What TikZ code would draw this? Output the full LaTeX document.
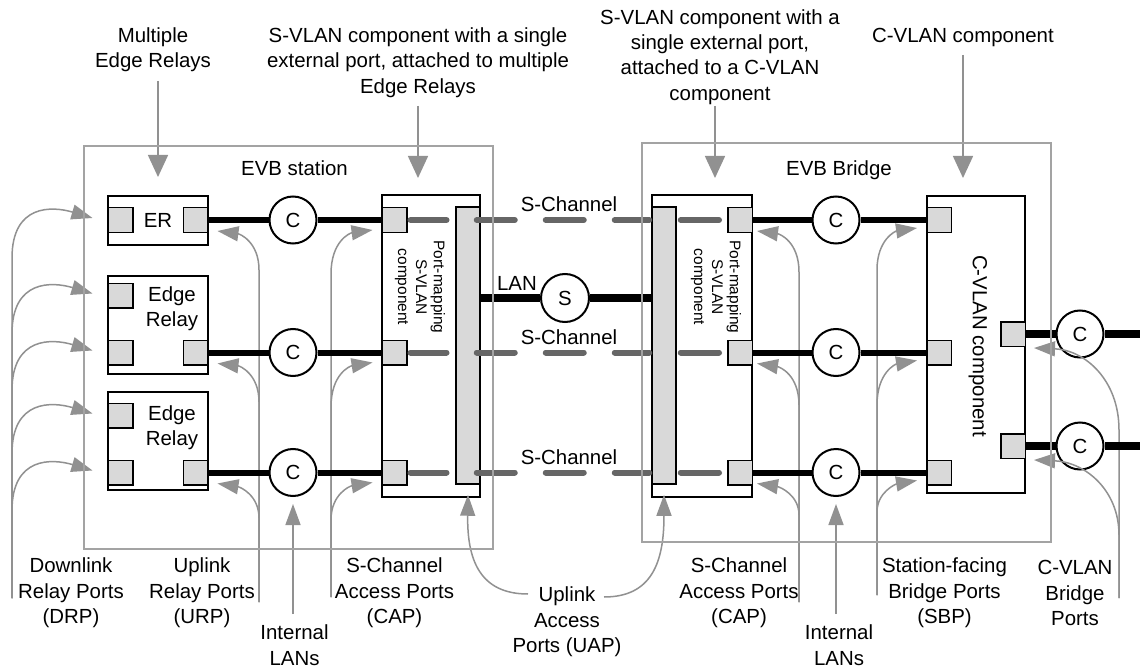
\documentclass[tikz,border=0pt]{standalone}
\usepackage{fontspec}
\setmainfont{Liberation Sans}
\usetikzlibrary{arrows.meta,calc}
\definecolor{portgray}{HTML}{D9D9D9}
\definecolor{boxgray}{HTML}{A3A3A3}
\definecolor{arrgray}{HTML}{919191}
\definecolor{dashgray}{HTML}{666666}
\begin{document}
\begin{tikzpicture}[x=1bp,y=-1bp,
 every node/.style={font=\fontsize{20.5}{25.5}\selectfont, inner sep=0pt, align=center},
 port/.style={draw=black, line width=1.5bp, fill=portgray, minimum width=24.5bp, minimum height=24.5bp},
 circ/.style={circle, draw=black, line width=2bp, fill=white, minimum size=47bp},
 bbox/.style={draw=black, line width=2bp, fill=white},
 bar/.style={draw=black, line width=1.5bp, fill=portgray},
 gbox/.style={draw=boxgray, line width=1.5bp},
 garr/.style={draw=arrgray, line width=1.5bp, -{Triangle[length=21bp,width=15bp,fill=arrgray]}},
 gtop/.style={draw=arrgray, line width=1.5bp, -{Triangle[length=22bp,width=20bp,fill=arrgray]}},
 link/.style={line width=6bp},
 xlink/.style={line width=8bp},
 sch/.style={draw=dashgray, line width=6bp, line cap=round},
 rot/.style={rotate=-90, font=\fontsize{15.5}{18}\selectfont},
]
\fill[white] (0,0) rectangle (1140,670);
\useasboundingbox (0,0) rectangle (1140,670);

% ---------- EVB station ----------
\node[bbox, minimum width=100bp, minimum height=49bp] (er) at (158,220.5) {ER};
\node[bbox, minimum width=100bp, minimum height=98bp] (er2) at (158,325) {};
\node[bbox, minimum width=100bp, minimum height=98bp] (er3) at (158,441) {};
\node (er2t) at (172,309) {Edge\\Relay};
\node (er3t) at (172,428) {Edge\\Relay};
\node[port] (erl) at (120.5,220) {};
\node[port] (err) at (195.5,220) {};
\node[port] (e2tl) at (120.5,295.5) {};
\node[port] (e2bl) at (120.5,352.5) {};
\node[port] (e2br) at (195.5,352.5) {};
\node[port] (e3tl) at (120.5,415.5) {};
\node[port] (e3bl) at (120.5,472.5) {};
\node[port] (e3br) at (195.5,472.5) {};
\node[circ] (c1) at (293,220) {C};
\node[circ] (c2) at (293,352.5) {C};
\node[circ] (c3) at (293,472.5) {C};
\node[bbox, minimum width=98bp, minimum height=302bp] (pml) at (431,346) {};
\node[bar, minimum width=24bp, minimum height=277bp] (lbar) at (468,345.5) {};
\node[rot] (pmlt) at (420,287) {Port-mapping\\S-VLAN\\component};
\node[port] (cap1) at (394.5,220) {};
\node[port] (cap2) at (394.5,352.5) {};
\node[port] (cap3) at (394.5,472.5) {};

% ---------- EVB bridge ----------
\node[bbox, minimum width=100bp, minimum height=302bp] (pmr) at (702,346) {};
\node[bar, minimum width=24bp, minimum height=277bp] (rbar) at (664,345.5) {};
\node[rot] (pmrt) at (716,287) {Port-mapping\\S-VLAN\\component};
\node[port] (capr1) at (740,220) {};
\node[port] (capr2) at (740,352.5) {};
\node[port] (capr3) at (740,472.5) {};
\node[circ] (c4) at (836,220) {C};
\node[circ] (c5) at (836,352.5) {C};
\node[circ] (c6) at (836,472.5) {C};
\node[bbox, line width=1.5bp, minimum width=98bp, minimum height=297bp] (cvl) at (976,344.5) {};
\node[rotate=-90] (cvlt) at (978,346) {C-VLAN component};
\node[port] (sbp1) at (939,220) {};
\node[port] (sbp2) at (939,352.5) {};
\node[port] (sbp3) at (939,472.5) {};
\node[port] (cvp1) at (1013,334) {};
\node[port] (cvp2) at (1013,446) {};
\node[circ] (co1) at (1080,334) {C};
\node[circ] (co2) at (1080,446) {C};
\node[circ, minimum size=48bp] (s) at (565,298) {S};
\coordinate (out1) at (1140,334);
\coordinate (out2) at (1140,446);

% ---------- labels ----------
\node (tl1) at (153,50) {Multiple\\Edge Relays};
\node (tl2) at (418,62.5) {S-VLAN component with a single\\external port, attached to multiple\\Edge Relays};
\node (tl3) at (720,57) {S-VLAN component with a\\single external port,\\attached to a C-VLAN\\component};
\node (tl4) at (963,37) {C-VLAN component};
\node (evbs) at (294.5,168) {EVB station};
\node (evbb) at (839,170) {EVB Bridge};
\node (lanl) at (517,283) {LAN};
\node (sc1) at (569,204) {S-Channel};
\node (sc2) at (569,337) {S-Channel};
\node (sc3) at (569,457) {S-Channel};
\node (drp) at (71,593) {Downlink\\Relay Ports\\(DRP)};
\node (urp) at (202,593) {Uplink\\Relay Ports\\(URP)};
\node (il1) at (294.5,645) {Internal\\LANs};
\node (capll) at (394.5,593) {S-Channel\\Access Ports\\(CAP)};
\node (uap) at (567,622) {Uplink\\Access\\Ports (UAP)};
\node (caprl) at (739,593) {S-Channel\\Access Ports\\(CAP)};
\node (il2) at (839,645) {Internal\\LANs};
\node (sbpl) at (944.5,593) {Station-facing\\Bridge Ports\\(SBP)};
\node (cvbl) at (1075,593) {C-VLAN\\Bridge\\Ports};

% ---------- top arrows ----------
\coordinate (ta1) at (158,81);
\coordinate (ta2) at (418,106);
\coordinate (ta3) at (715,106);
\coordinate (ta4) at (963,55);
\draw[gtop] (ta1) -- ([yshift=18bp]er.north);
\draw[gtop] (ta2) -- (418,178);
\draw[gtop] (ta3) -- (715,178);
\draw[gtop] (ta4) -- (963,178);

% ---------- DRP arrows ----------
\coordinate (drpf) at (12,598);
\draw[garr] (drpf) -- (12,258) .. controls (12,204) and (52,206) .. ([xshift=-15bp,yshift=2bp]erl.west);
\draw[garr] (drpf) -- (12,333.5) .. controls (12,279.5) and (52,281.5) .. ([xshift=-15bp,yshift=2bp]e2tl.west);
\draw[garr] (drpf) -- (12,390.5) .. controls (12,336.5) and (52,338.5) .. ([xshift=-15bp,yshift=2bp]e2bl.west);
\draw[garr] (drpf) -- (12,453.5) .. controls (12,399.5) and (52,401.5) .. ([xshift=-15bp,yshift=2bp]e3tl.west);
\draw[garr] (drpf) -- (12,510.5) .. controls (12,456.5) and (52,458.5) .. ([xshift=-15bp,yshift=2bp]e3bl.west);

% ---------- URP arrows ----------
\coordinate (urpf) at (259,602);
\draw[garr] (urpf) -- (259,270) .. controls (259,242) and (240,234) .. ([xshift=9bp,yshift=2bp]err.south east);
\draw[garr] (urpf) -- (259,402) .. controls (259,374) and (240,366) .. ([xshift=9bp,yshift=2bp]e2br.south east);
\draw[garr] (urpf) -- (259,518) .. controls (259,495) and (240,487) .. ([xshift=9bp,yshift=2bp]e3br.south east);

% ---------- CAP (station) arrows ----------
\coordinate (caplf) at (331,597);
\draw[garr] (caplf) -- (331,274) .. controls (331,241) and (350,233) .. ([xshift=-9bp,yshift=3bp]cap1.south west);
\draw[garr] (caplf) -- (331,407) .. controls (331,374) and (350,366) .. ([xshift=-9bp,yshift=3bp]cap2.south west);
\draw[garr] (caplf) -- (331,520) .. controls (331,494) and (350,486) .. ([xshift=-9bp,yshift=3bp]cap3.south west);

% ---------- CAP (bridge) arrows ----------
\coordinate (caprf) at (799,602);
\draw[garr] (caprf) -- (799,272) .. controls (799,242) and (780,234) .. ([xshift=4bp,yshift=2bp]capr1.south east);
\draw[garr] (caprf) -- (799,405) .. controls (799,375) and (780,367) .. ([xshift=4bp,yshift=2bp]capr2.south east);
\draw[garr] (caprf) -- (799,515) .. controls (799,495) and (780,487) .. ([xshift=4bp,yshift=2bp]capr3.south east);

% ---------- SBP arrows ----------
\coordinate (sbpf) at (877,595);
\draw[garr] (sbpf) -- (877,270) .. controls (877,239) and (896,231) .. ([xshift=-9bp,yshift=5bp]sbp1.south west);
\draw[garr] (sbpf) -- (877,405) .. controls (877,372) and (896,364) .. ([xshift=-9bp,yshift=5bp]sbp2.south west);
\draw[garr] (sbpf) -- (877,512) .. controls (877,492) and (896,484) .. ([xshift=-9bp,yshift=5bp]sbp3.south west);

% ---------- C-VLAN bridge port arrows ----------
\coordinate (cvbf) at (1119,598);
\draw[garr] (cvbf) -- (1119,430) .. controls (1119,380) and (1085,350) .. ([xshift=8bp,yshift=-1bp]cvp1.south east);
\draw[garr] (cvbf) -- (1119,535) .. controls (1119,490) and (1085,462) .. ([xshift=8bp,yshift=-1bp]cvp2.south east);

% ---------- Internal LANs ----------
\coordinate (il1f) at (293,614);
\coordinate (il2f) at (836,614);
\draw[garr] (il1f) -- ([yshift=-7bp]c3.south);
\draw[garr] (il2f) -- ([yshift=-7bp]c6.south);

% ---------- UAP ----------
\coordinate (uapl) at (528,594);
\coordinate (uapr) at (604,597);
\draw[garr] (uapl) .. controls (480,594) and (467,560) .. ([yshift=-10bp]lbar.south);
\draw[garr] (uapr) .. controls (652,597) and (664,562) .. ([yshift=-10bp]rbar.south);

% ---------- links ----------
\draw[link] (err) -- (c1) -- (cap1);
\draw[link] (e2br) -- (c2) -- (cap2);
\draw[link] (e3br) -- (c3) -- (cap3);
\draw[link] (capr1) -- (c4) -- (sbp1);
\draw[link] (capr2) -- (c5) -- (sbp2);
\draw[link] (capr3) -- (c6) -- (sbp3);
\draw[xlink] (lbar.east |- s) -- (s) -- (rbar.west |- s);
\draw[xlink] (cvp1) -- (co1) -- (out1);
\draw[xlink] (cvp2) -- (co2) -- (out2);

% ---------- S-Channels ----------
\foreach \i in {1,2,3} {
  \draw[sch] ([xshift=3bp]cap\i.east) -- ([xshift=39bp]cap\i.east);
  \draw[sch, dash pattern=on 38bp off 31bp] ($(lbar.east |- cap\i)+(-4,0)$) -- ($(rbar.west |- cap\i)+(-2,0)$);
  \draw[sch] ($(rbar.east |- capr\i)+(4,0)$) -- ([xshift=-8bp]capr\i.west);
}

% ---------- outer boxes ----------
\node[gbox, minimum width=409bp, minimum height=403bp] (station) at (288.5,347.5) {};
\node[gbox, minimum width=409bp, minimum height=399bp] (bridge) at (846.5,342.5) {};
\end{tikzpicture}
\end{document}
